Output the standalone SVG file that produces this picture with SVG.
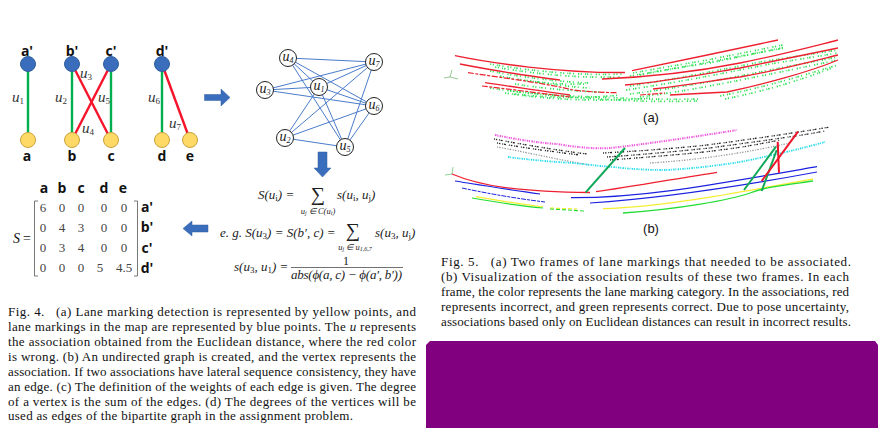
<svg xmlns="http://www.w3.org/2000/svg" width="893" height="428" viewBox="0 0 893 428">
<style>
text{font-family:"Liberation Serif",serif;fill:#111}
.cap{font-size:13px;white-space:pre}
.lab{font-family:"Open Sans","Liberation Sans",sans-serif;font-weight:700;font-size:14px;text-anchor:middle;fill:#111}
.u{font-style:italic;font-size:15px;fill:#333}
.sub{font-size:9px;font-style:normal}
.gu{font-style:italic;font-size:14px;text-anchor:middle;fill:#222}
.gsub{font-size:8px}
.m{font-size:13px;text-anchor:middle;fill:#444}
.f{font-style:italic;font-size:13px;fill:#222}
.fs{font-style:italic;font-size:8.5px;text-anchor:middle;fill:#222}
.sig{font-size:20px;text-anchor:middle;fill:#222}
.top{fill:#3a6dbb;stroke:#2f5f9f;stroke-width:1}
.bot{fill:#ffd966;stroke:#c9a33e;stroke-width:1}
.good{stroke:#00b050;stroke-width:2.4;fill:none}
.bad{stroke:#f5142c;stroke-width:2.4;fill:none}
.e{stroke:#4a7ccb;stroke-width:1;fill:none}
.vx{fill:#fff;stroke:#222;stroke-width:1}
.ar{fill:#3a6dbb;stroke:#2f5f9f;stroke-width:.5}
.mb{fill:none;stroke:#555;stroke-width:.8}
.r{fill:none;stroke:#ee2030;stroke-width:1.3}
.rd{fill:none;stroke:#ee2030;stroke-width:1.2;stroke-dasharray:6 1.5 3 1.5}
.g{fill:none;stroke:#2fe055;stroke-width:1.700;stroke-dasharray:1.300 1.500 1.200 3 1 .9 1.500 2.300 1 4}
.mg{fill:none;stroke:#ee55dd;stroke-width:2;stroke-dasharray:1.500 .8 1 1.300}
.k{fill:none;stroke:#222;stroke-width:1.300;stroke-dasharray:1 1 1.500 1.800 1 .8 2 3}
.gr{fill:none;stroke:#999;stroke-width:1.300;stroke-dasharray:1 1.200 1.500 1.600}
.c{fill:none;stroke:#22ddee;stroke-width:1.800;stroke-dasharray:1.500 .8 1 1.300}
</style>

<g id="fig4a-connectors">
<line class="good" x1="28" y1="64" x2="28" y2="140"/>
<line class="good" x1="72" y1="64" x2="72" y2="140"/>
<line class="good" x1="111" y1="64" x2="111" y2="140"/>
<line class="good" x1="162" y1="64" x2="162" y2="140"/>
<line class="bad" x1="72" y1="64" x2="111" y2="140"/>
<line class="bad" x1="111" y1="64" x2="72" y2="140"/>
<line class="bad" x1="162" y1="64" x2="190" y2="140"/>
</g>
<g id="node-a1"><circle class="top" cx="28" cy="64" r="7.5"/><text class="lab" x="27" y="56">a'</text></g>
<g id="node-b1"><circle class="top" cx="72" cy="64" r="7.5"/><text class="lab" x="72" y="56">b'</text></g>
<g id="node-c1"><circle class="top" cx="111" cy="64" r="7.5"/><text class="lab" x="111" y="56">c'</text></g>
<g id="node-d1"><circle class="top" cx="162" cy="64" r="7.5"/><text class="lab" x="162" y="56">d'</text></g>
<g id="node-a"><circle class="bot" cx="28" cy="140" r="7.5"/><text class="lab" x="27" y="161">a</text></g>
<g id="node-b"><circle class="bot" cx="72" cy="140" r="7.5"/><text class="lab" x="72" y="161">b</text></g>
<g id="node-c"><circle class="bot" cx="111" cy="140" r="7.5"/><text class="lab" x="111" y="161">c</text></g>
<g id="node-d"><circle class="bot" cx="162" cy="140" r="7.5"/><text class="lab" x="162" y="161">d</text></g>
<g id="node-e"><circle class="bot" cx="190" cy="140" r="7.5"/><text class="lab" x="190" y="161">e</text></g>
<g id="fig4a-labels">
<text class="u" x="12" y="102">u<tspan class="sub" dy="2">1</tspan></text>
<text class="u" x="55" y="102">u<tspan class="sub" dy="2">2</tspan></text>
<text class="u" x="80" y="78">u<tspan class="sub" dy="2">3</tspan></text>
<text class="u" x="82" y="133">u<tspan class="sub" dy="2">4</tspan></text>
<text class="u" x="98" y="102">u<tspan class="sub" dy="2">5</tspan></text>
<text class="u" x="148" y="102">u<tspan class="sub" dy="2">6</tspan></text>
<text class="u" x="169" y="128">u<tspan class="sub" dy="2">7</tspan></text>
</g>

<g id="arrows">
<path class="ar" d="M204.500 94.500H221V89L230 97.500 221 106V100.500H204.500Z"/>
<path class="ar" d="M318 152H327V168H331L322.500 177 314 168H318Z"/>
<path class="ar" d="M208 225H192V221L183 228.500 192 236V232H208Z"/>
</g>

<g id="graph-connectors">
<line class="e" x1="288" y1="58" x2="374" y2="62"/>
<line class="e" x1="288" y1="58" x2="319" y2="87"/>
<line class="e" x1="288" y1="58" x2="374" y2="106"/>
<line class="e" x1="288" y1="58" x2="345" y2="147"/>
<line class="e" x1="265" y1="90" x2="374" y2="62"/>
<line class="e" x1="265" y1="90" x2="319" y2="87"/>
<line class="e" x1="265" y1="90" x2="374" y2="106"/>
<line class="e" x1="319" y1="87" x2="374" y2="62"/>
<line class="e" x1="319" y1="87" x2="374" y2="106"/>
<line class="e" x1="319" y1="87" x2="345" y2="147"/>
<line class="e" x1="319" y1="87" x2="285" y2="138"/>
<line class="e" x1="285" y1="138" x2="374" y2="62"/>
<line class="e" x1="285" y1="138" x2="374" y2="106"/>
<line class="e" x1="285" y1="138" x2="345" y2="147"/>
<line class="e" x1="345" y1="147" x2="374" y2="106"/>
<line class="e" x1="345" y1="147" x2="374" y2="62"/>
</g>
<g id="vertex-u1"><circle class="vx" cx="319" cy="87" r="8.500"/><text class="gu" x="319" y="90">u<tspan class="gsub" dy="2">1</tspan></text></g>
<g id="vertex-u2"><circle class="vx" cx="285" cy="138" r="8.500"/><text class="gu" x="285" y="141">u<tspan class="gsub" dy="2">2</tspan></text></g>
<g id="vertex-u3"><circle class="vx" cx="265" cy="90" r="8.500"/><text class="gu" x="265" y="93">u<tspan class="gsub" dy="2">3</tspan></text></g>
<g id="vertex-u4"><circle class="vx" cx="288" cy="58" r="8.500"/><text class="gu" x="288" y="61">u<tspan class="gsub" dy="2">4</tspan></text></g>
<g id="vertex-u5"><circle class="vx" cx="345" cy="147" r="8.500"/><text class="gu" x="345" y="150">u<tspan class="gsub" dy="2">5</tspan></text></g>
<g id="vertex-u6"><circle class="vx" cx="374" cy="106" r="8.500"/><text class="gu" x="374" y="109">u<tspan class="gsub" dy="2">6</tspan></text></g>
<g id="vertex-u7"><circle class="vx" cx="374" cy="62" r="8.500"/><text class="gu" x="374" y="65">u<tspan class="gsub" dy="2">7</tspan></text></g>

<g id="matrix">
<text class="lab" x="44" y="193">a</text><text class="lab" x="62" y="193">b</text><text class="lab" x="81" y="193">c</text><text class="lab" x="104" y="193">d</text><text class="lab" x="123" y="193">e</text>
<text class="lab" x="147" y="212">a'</text><text class="lab" x="147" y="232">b'</text><text class="lab" x="147" y="253">c'</text><text class="lab" x="147" y="273">d'</text>
<text x="13" y="243" font-size="14" font-style="italic" fill="#444">S</text><text x="23" y="243" font-size="14" fill="#444">=</text>
<path class="mb" d="M38 201H34.500V276H38M134 201H137.500V276H134"/>
<g>
<text class="m" x="43" y="212">6</text><text class="m" x="62" y="212">0</text><text class="m" x="81" y="212">0</text><text class="m" x="104" y="212">0</text><text class="m" x="124" y="212">0</text>
<text class="m" x="43" y="232">0</text><text class="m" x="62" y="232">4</text><text class="m" x="81" y="232">3</text><text class="m" x="104" y="232">0</text><text class="m" x="124" y="232">0</text>
<text class="m" x="43" y="252">0</text><text class="m" x="62" y="252">3</text><text class="m" x="81" y="252">4</text><text class="m" x="104" y="252">0</text><text class="m" x="124" y="252">0</text>
<text class="m" x="43" y="272">0</text><text class="m" x="62" y="272">0</text><text class="m" x="81" y="272">0</text><text class="m" x="100" y="272">5</text><text class="m" x="124" y="272">4.5</text>
</g>
</g>

<g id="formulas">
<text class="f" x="258" y="199">S(u<tspan class="sub" dy="2">i</tspan><tspan dy="-2">) =</tspan></text>
<text class="sig" x="318" y="201">∑</text>
<text class="fs" x="318" y="214">u<tspan font-size="6" dy="1">j</tspan><tspan dy="-1"> ∈ C(u</tspan><tspan font-size="6" dy="1">i</tspan><tspan dy="-1">)</tspan></text>
<text class="f" x="337" y="199">s(u<tspan class="sub" dy="2">i</tspan><tspan dy="-2">, u</tspan><tspan class="sub" dy="2">j</tspan><tspan dy="-2">)</tspan></text>
<text class="f" x="220" y="237">e. g. S(u<tspan class="sub" dy="2">3</tspan><tspan dy="-2">) = S(b′, c) =</tspan></text>
<text class="sig" x="353" y="237">∑</text>
<text class="fs" x="355" y="250">u<tspan font-size="6" dy="1">j</tspan><tspan dy="-1"> ∈ u</tspan><tspan font-size="6" dy="1">1,6,7</tspan></text>
<text class="f" x="375" y="237">s(u<tspan class="sub" dy="2">3</tspan><tspan dy="-2">, u</tspan><tspan class="sub" dy="2">j</tspan><tspan dy="-2">)</tspan></text>
<text class="f" x="234" y="271">s(u<tspan class="sub" dy="2">3</tspan><tspan dy="-2">, u</tspan><tspan class="sub" dy="2">1</tspan><tspan dy="-2">) =</tspan></text>
<text x="346" y="265" font-size="12" text-anchor="middle" fill="#222">1</text>
<line x1="291" y1="267.500" x2="403" y2="267.500" stroke="#333" stroke-width=".7"/>
<text class="f" x="291" y="279" textLength="111">abs(ϕ(a, c) − ϕ(a′, b′))</text>
</g>

<g id="fig5a">
<path d="M450 77L452 70M450 77L444 78M450 77L458 79" fill="none" stroke="#6ab06a" stroke-width=".7"/>
<path class="g" d="M490 64C530 71 580 76 622 74"/><path class="g" d="M495 67C540 75 580 78 620 77"/>
<path class="g" d="M490 71C520 77 560 82 590 83"/><path class="g" d="M500 76C530 82 560 85 585 84"/>
<path class="g" d="M515 84C540 88 570 91 600 92"/><path class="g" d="M530 81C550 84 570 87 590 88"/>
<path class="g" d="M490 88C540 96 600 97 620 98 660 100 700 99 700 99"/><path class="g" d="M510 91C560 97 610 100 640 101 660 102 698 101 698 101"/>
<path class="g" d="M515 94C560 99 590 98 620 95"/><path class="g" d="M505 93C550 100 600 102 650 98"/>
<path class="g" d="M633 73C660 68 690 63 707 60L783 45"/><path class="g" d="M640 75C670 69 695 65 710 63L786 47"/>
<path class="g" d="M630 76C665 70 700 64 730 58L784 48"/>
<path class="g" d="M630 86C680 78 720 70 760 62L838 50"/><path class="g" d="M626 90C680 82 730 72 770 64L838 53"/>
<path class="g" d="M630 94C680 88 740 76 780 68L838 57"/><path class="g" d="M640 97C690 91 750 78 790 70L838 60"/>
<path class="g" d="M720 96C770 86 800 76 838 65"/><path class="g" d="M725 99C770 90 800 80 832 68"/>
<path class="r" d="M455 55.700C490 63 560 73 625 72.500"/>
<path class="r" d="M632 70.700C680 61 730 50 778 40"/>
<path class="r" d="M460 64C495 71 530 76 560 80"/>
<path class="rd" d="M468 72.700C505 78 550 84 573 90 590 92 605 92.500 617 92.700"/>
<path class="r" d="M485 82.700C510 86 545 92 570 95"/>
<path class="rd" d="M482 86C510 89 545 94 570 97"/>
<path class="r" d="M602 79C650 77 700 71 740 63 780 55 810 47 838 40"/>
<path class="r" d="M625 85C665 82 700 75 740 68 780 60 810 54 838 48"/>
<path class="r" d="M653 89C690 85 710 81 740 77 780 70 810 62 838 55"/>
<path class="r" d="M670 95C690 94 710 93 727 92 760 85 810 72 838 60"/>
<path class="rd" d="M640 95L665 93"/>
<text x="651" y="122" font-size="13" text-anchor="middle" style="font-family:'Liberation Sans',sans-serif">(a)</text>
</g>

<g id="fig5b">
<path d="M452 174L453 167M452 174L445 175" fill="none" stroke="#60c060" stroke-width=".7"/>
<path class="mg" d="M495 135C520 140 540 143 557 144 580 148 600 149 610 148 640 145 700 136 737 130"/>
<path class="k" d="M494 139C520 144 555 150 587 154"/><path class="k" d="M497 143C525 148 555 152 580 155"/>
<path class="k" d="M603 153C640 151 680 148 707 145 760 138 800 132 830 127"/><path class="k" d="M607 157C650 154 680 151 710 148 760 141 800 136 825 131"/>
<path class="k" d="M610 160C650 157 700 153 720 150 745 147 765 143 780 140"/>
<path class="gr" d="M497 147C530 153 560 160 590 165"/><path class="gr" d="M650 163C700 160 750 152 790 143"/>
<path class="c" d="M508 157C530 160 555 162 573 163 590 165 600 166 613 167 640 170 655 170 667 170 700 168 720 165 740 162 770 156 800 149 825 142"/>
<path class="r" d="M452 174C480 186 520 192 590 192.500"/>
<path class="r" d="M596 191.700C630 187 680 178 717 172.300"/>
<path d="M455 181C480 185 510 190 540 194" fill="none" stroke="#1a22e0" stroke-width="1.200"/>
<path d="M462 188C490 194 520 199 545 202" fill="none" stroke="#1a22e0" stroke-width="1" stroke-dasharray="5 1 3 1"/>
<path d="M571 197.700C640 198 700 187 817 166.700" fill="none" stroke="#1a22e0" stroke-width="1.300"/>
<path d="M590 203C650 199 720 190 817 172" fill="none" stroke="#1a22e0" stroke-width="1.200"/>
<path d="M476 196.700C495 200 520 204 543 207" fill="none" stroke="#f5ee30" stroke-width="1.200"/>
<path d="M550 208L577 209" fill="none" stroke="#f5ee30" stroke-width="1.100" stroke-dasharray="4 2"/>
<path d="M603 208.700C660 207 720 196 813 179" fill="none" stroke="#f5ee30" stroke-width="1.300"/>
<path d="M472 198C495 202 520 206 543 208" fill="none" stroke="#22dd33" stroke-width="1.200"/>
<path d="M550 209L585 211" fill="none" stroke="#22dd33" stroke-width="1.100" stroke-dasharray="4 2"/>
<path d="M623 213C680 209 730 200 750 193 765 187 785 185 813 181" fill="none" stroke="#22dd33" stroke-width="1.300"/>
<g>
<line x1="625" y1="148" x2="585.700" y2="192.300" stroke="#0fa858" stroke-width="2"/>
<line x1="776" y1="146.700" x2="744" y2="190" stroke="#0fa858" stroke-width="2"/>
<line x1="776.700" y1="150" x2="761.700" y2="191" stroke="#0fa858" stroke-width="2"/>
<line x1="798" y1="131.700" x2="761.700" y2="181" stroke="#f01428" stroke-width="2"/>
<line x1="777.700" y1="141.700" x2="779" y2="172.700" stroke="#f01428" stroke-width="2"/>
</g>
<text x="651" y="233" font-size="13" text-anchor="middle" style="font-family:'Liberation Sans',sans-serif">(b)</text>
</g>

<g id="caption-fig4">
<text class="cap" x="8" y="316" textLength="408">Fig. 4.   (a) Lane marking detection is represented by yellow points, and</text>
<text class="cap" x="8" y="331" textLength="408">lane markings in the map are represented by blue points. The <tspan font-style="italic">u</tspan> represents</text>
<text class="cap" x="8" y="346" textLength="408">the association obtained from the Euclidean distance, where the red color</text>
<text class="cap" x="8" y="361" textLength="408">is wrong. (b) An undirected graph is created, and the vertex represents the</text>
<text class="cap" x="8" y="376" textLength="408">association. If two associations have lateral sequence consistency, they have</text>
<text class="cap" x="8" y="391" textLength="408">an edge. (c) The definition of the weights of each edge is given. The degree</text>
<text class="cap" x="8" y="406" textLength="408">of a vertex is the sum of the edges. (d) The degrees of the vertices will be</text>
<text class="cap" x="8" y="420" textLength="345">used as edges of the bipartite graph in the assignment problem.</text>
</g>
<g id="caption-fig5">
<text class="cap" x="441" y="266" textLength="410">Fig. 5.   (a) Two frames of lane markings that needed to be associated.</text>
<text class="cap" x="441" y="281" textLength="408">(b) Visualization of the association results of these two frames. In each</text>
<text class="cap" x="441" y="296" textLength="408">frame, the color represents the lane marking category. In the associations, red</text>
<text class="cap" x="441" y="311" textLength="408">represents incorrect, and green represents correct. Due to pose uncertainty,</text>
<text class="cap" x="441" y="326" textLength="410">associations based only on Euclidean distances can result in incorrect results.</text>
</g>
<path id="redaction" d="M430 341H875L878 345V428H426V345Z" fill="#800080"/>
</svg>
